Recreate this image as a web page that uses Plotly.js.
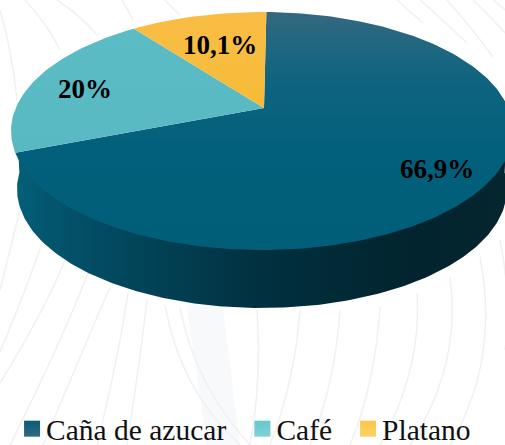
<!DOCTYPE html>
<html><head><meta charset="utf-8">
<script src="https://cdn.plot.ly/plotly-3.0.1.min.js"></script>
<style>html,body{margin:0;padding:0;background:#fff}#c{width:505px;height:445px}</style></head>
<body><div id="c"></div>
<script>
// Data
const categories = ['Caña de azucar', 'Café', 'Platano'];
const sliceShares = [71.8, 19.4, 8.8];      // angular share actually drawn in the picture
const sliceLabels = ['66,9%', '20%', '10,1%'];
const labelX = [437, 85, 220];
const labelY = [171, 91, 47];
const topScales = [
  [[0,'#005e79'],[0.45,'#03607c'],[0.72,'#0f6480'],[1,'#33697f']],
  [[0,'#58b9c2'],[1,'#5cbcc6']],
  [[0,'#f7bb38'],[1,'#f9bd45']]
];
const legendColors = ['#0a5a78', '#68c6cc', '#fbc54e'];
const legendGrad = ['#33697f', '#7ed2d6', '#ffd061'];
const sideScale = [[0,'#03607a'],[0.06,'#03566f'],[0.25,'#024459'],[0.5,'#01303f'],[0.8,'#02242e'],[1,'#05262f']];

// Pie geometry
const top_ = {cx:262, cy:131, rx:251, ry:119};
const inner = {cx:262, cy:131, rx:248, ry:116};
const low  = {cx:262, cy:189, rx:245, ry:119};
const apex = [264, 108];
const startDeg = 1;

function rim(e, deg){ const t = deg*Math.PI/180; return [e.cx + e.rx*Math.sin(t), e.cy - e.ry*Math.cos(t)]; }
function arc(e, a, b){ const p=[]; const n=Math.max(2,Math.ceil(Math.abs(b-a))); for(let i=0;i<=n;i++) p.push(rim(e,a+(b-a)*i/n)); return p; }

const traces = [];
// side wall of the pie (visible lower half)
const wall = arc(inner, 82, 278).concat(arc(low, 278, 82));
traces.push({type:'scatter', mode:'lines', x:wall.map(p=>p[0]), y:wall.map(p=>p[1]), fill:'toself',
  line:{width:0,color:'rgba(0,0,0,0)'}, showlegend:false, hoverinfo:'skip',
  fillgradient:{type:'horizontal', colorscale:sideScale}});

// top faces
const total = sliceShares.reduce((a,b)=>a+b,0);
let ang = startDeg;
sliceShares.forEach((v,i)=>{
  const sweep = v/total*360;
  const pts = [apex].concat(arc(top_, ang, ang+sweep)); pts.push(apex);
  traces.push({type:'scatter', mode:'lines', x:pts.map(p=>p[0]), y:pts.map(p=>p[1]), fill:'toself',
    line:{width:0,color:'rgba(0,0,0,0)'}, showlegend:false, hoverinfo:'skip',
    fillgradient:{type:'vertical', colorscale:topScales[i]}});
  ang += sweep;
});
// slice labels
traces.push({type:'scatter', mode:'text', x:labelX, y:labelY, text:sliceLabels, textposition:'middle center',
  textfont:{family:'Liberation Serif', size:27, color:'#000', weight:700}, showlegend:false, hoverinfo:'skip'});
// legend entries
categories.forEach((c,i)=>{
  traces.push({type:'scatter', mode:'markers', x:[null], y:[null], name:c,
    marker:{symbol:'square', size:16, color:legendColors[i], gradient:{type:'vertical', color:legendGrad[i]}}});
});

// faint watermark curves behind the chart
const fan = [
 'M20,210 Q10,250 0,290','M42,243 Q28,285 0,352','M65,260 Q45,310 0,383','M88,273 Q60,345 10,445','M110,287 Q85,345 43,445',
 'M128,293 Q118,360 97,445','M147,300 Q140,360 127,445','M165,305 Q180,390 240,445','M180,308 Q195,385 250,445',
 'M257,310 Q262,380 250,445','M300,310 Q295,380 270,445','M340,310 Q335,385 310,445','M380,307 Q375,385 350,445',
 'M417,293 Q422,370 380,445','M450,277 Q462,365 410,445','M480,257 Q500,360 450,445','M500,240 Q512,300 505,350',
 'M0,10 Q12,50 17,100','M25,0 Q48,25 60,50','M57,0 Q80,15 97,35','M122,0 Q128,10 133,20','M165,0 Q172,8 180,15',
 'M397,0 Q410,12 423,23','M420,0 Q445,22 467,43','M447,0 Q472,28 493,57','M473,0 Q490,16 505,33','M493,0 Q500,5 505,10'
];
const shapes = fan.map(d=>({type:'path', path:d, layer:'below', line:{color:'#f0f1f4', width:1.5}}));
shapes.unshift({type:'path', path:'M186,300 L222,300 L240,445 L207,445 Z', layer:'below', line:{width:0}, fillcolor:'#f7f9fb'});

const layout = {
  width:505, height:445, margin:{l:0,r:0,t:0,b:0}, paper_bgcolor:'#fff', plot_bgcolor:'rgba(0,0,0,0)',
  xaxis:{range:[0,505], visible:false, fixedrange:true},
  yaxis:{range:[445,0], visible:false, fixedrange:true},
  shapes:shapes,
  showlegend:true,
  legend:{orientation:'h', x:0.012, y:0, xanchor:'left', yanchor:'bottom', bgcolor:'rgba(0,0,0,0)',
    font:{family:'Liberation Serif', size:29.5, color:'#111'}, traceorder:'normal', itemsizing:'trace', tracegroupgap:0}
};
Plotly.newPlot('c', traces, layout, {displayModeBar:false, staticPlot:true}).then(()=>{
  document.querySelectorAll('.legendsymbols').forEach(g=>g.setAttribute('transform','translate(6,0)'));
  document.querySelectorAll('.legend .traces').forEach((g,i)=>{
    const m = /translate\(([-\d.]+),\s*([-\d.]+)\)/.exec(g.getAttribute('transform')||'');
    if(m) g.setAttribute('transform','translate('+(parseFloat(m[1])+5*i)+','+m[2]+')');
  });
  document.querySelectorAll('.legend .scrollbox').forEach(g=>g.removeAttribute('clip-path'));
  document.querySelectorAll('.legend').forEach(g=>{
    const m = /translate\(([-\d.]+),\s*([-\d.]+)\)/.exec(g.getAttribute('transform')||'');
    if(m) g.setAttribute('transform','translate('+m[1]+','+(parseFloat(m[2])+10)+')');
  });
});
</script></body></html>
